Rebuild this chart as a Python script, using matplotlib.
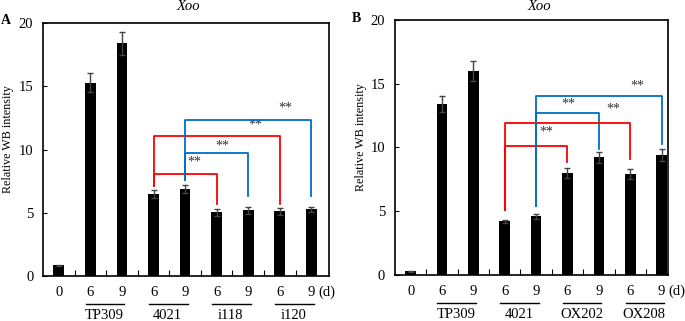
import matplotlib

matplotlib.use("Agg")
import matplotlib.pyplot as plt

plt.rcParams["font.family"] = ["Liberation Serif", "DejaVu Serif"]
plt.rcParams["font.size"] = 9

RED = "#ff0000"
BLUE = "#0070c0"

tick_labels = ["0", "6", "9", "6", "9", "6", "9", "6", "9"]

groups_a = ["TP309", "4021", "i118", "i120"]
values_a = [0.85, 15.3, 18.4, 6.5, 6.88, 5.03, 5.2, 5.14, 5.27]
errors_a = [0.05, 0.75, 0.9, 0.3, 0.33, 0.25, 0.28, 0.28, 0.22]

groups_b = ["TP309", "4021", "OX202", "OX208"]
values_b = [0.3, 13.4, 16.0, 4.2, 4.6, 8.0, 9.23, 7.9, 9.4]
errors_b = [0.03, 0.6, 0.75, 0.15, 0.2, 0.4, 0.45, 0.4, 0.45]

# brackets: (left bar, right bar, left leg bottom, top, right leg bottom, colour, star x, star y)
brackets_a = [
    (3, 5, 7.1, 8.06, 5.7, RED, 4.3, 9.0),
    (4, 6, 7.6, 9.7, 6.35, BLUE, 5.19, 10.3),
    (3, 7, 7.1, 11.07, 5.7, RED, 6.23, 11.95),
    (4, 8, 7.6, 12.33, 6.35, BLUE, 7.18, 13.3),
]
brackets_b = [
    (3, 5, 5.1, 10.15, 8.9, RED, 4.33, 11.2),
    (4, 6, 5.45, 12.7, 9.9, BLUE, 5.03, 13.4),
    (3, 7, 5.1, 11.95, 9.1, RED, 6.46, 13.0),
    (4, 8, 5.45, 14.0, 10.25, BLUE, 7.23, 14.85),
]


def draw_panel(ax, values, errors, groups, brackets, xmax, label_x):
    xs = list(range(len(values)))
    ax.bar(xs, values, width=0.34, color="black", zorder=2)
    ax.errorbar(xs, values, yerr=errors, fmt="none", ecolor="#444444",
                elinewidth=1, capsize=2.5, capthick=1, zorder=3)
    for l, r, lb, top, rb, col, sx, sy in brackets:
        ax.plot([l, l, r, r], [lb, top, top, rb], color=col, lw=1.3, zorder=4)
        ax.text(sx, sy, "**", ha="center", va="center", fontsize=10, color="#333333")
    ax.set_xlim(-0.5, xmax)
    ax.set_ylim(0, 20)
    ax.set_yticks([0, 5, 10, 15, 20])
    ax.tick_params(axis="y", direction="in", length=3, width=0.8, pad=7, labelsize=10.5)
    # inward ticks between bars
    ax.set_xticks([i + 0.5 for i in range(len(values) - 1)])
    ax.set_xticklabels([])
    ax.tick_params(axis="x", direction="in", length=4, width=0.8)
    for sp in ax.spines.values():
        sp.set_linewidth(1.2)
    trans = ax.get_xaxis_transform()
    for i, lab in enumerate(tick_labels):
        ax.text(i, -0.065, lab, transform=trans, ha="center", va="center",
                fontsize=10.5, clip_on=False)
    ax.text(8.22, -0.065, "(d)", transform=trans, ha="left", va="center",
            fontsize=10.5, clip_on=False)
    for g, name in enumerate(groups):
        x0 = 1 + 2 * g
        ax.plot([x0 - 0.15, x0 + 1.08], [-0.11, -0.11], transform=trans,
                color="black", lw=1, clip_on=False)
        ax.text(x0 + 0.45, -0.155, name, transform=trans, ha="center",
                va="center", fontsize=10.5, clip_on=False)
    ax.set_ylabel("Relative WB intensity", fontsize=8.7, va="center")
    ax.yaxis.set_label_coords(label_x, 0.54)


fig = plt.figure(figsize=(6.85, 3.21), dpi=100)
ax_a = fig.add_axes([0.0628, 0.140, 0.4172, 0.788])
ax_b = fig.add_axes([0.5766, 0.1433, 0.3984, 0.7944])

draw_panel(ax_a, values_a, errors_a, groups_a, brackets_a, 8.55, (8 - 43) / 286)
draw_panel(ax_b, values_b, errors_b, groups_b, brackets_b, 8.2, (361 - 395) / 273)

fig.text(188 / 685, 1 - 7 / 321, "Xoo", style="italic", ha="center", va="center", fontsize=10.5)
fig.text(539 / 685, 1 - 7 / 321, "Xoo", style="italic", ha="center", va="center", fontsize=10.5)
fig.text(6 / 685, 1 - 20 / 321, "A", weight="bold", ha="center", va="center", fontsize=10)
fig.text(356 / 685, 1 - 19 / 321, "B", weight="bold", ha="center", va="center", fontsize=10)

fig.savefig("out.png", dpi=100)
